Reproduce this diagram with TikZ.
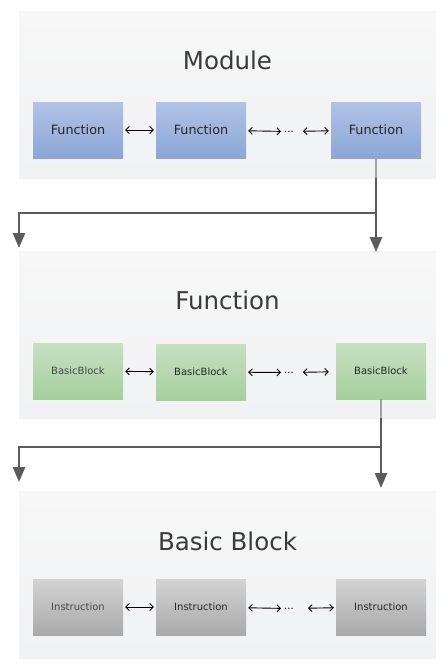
\documentclass[tikz,border=0pt]{standalone}
\usepackage{fontspec}
\setmainfont{DejaVu Sans}
\usetikzlibrary{arrows.meta}

\definecolor{paneltop}{HTML}{F7F7F7}
\definecolor{panelbot}{HTML}{F1F2F4}
\definecolor{bluetop}{HTML}{B1C3E6}
\definecolor{bluebot}{HTML}{8BA6D6}
\definecolor{greentop}{HTML}{C6E0C1}
\definecolor{greenbot}{HTML}{A6CF9D}
\definecolor{graytop}{HTML}{D3D3D3}
\definecolor{graybot}{HTML}{A9A9A9}
\definecolor{busgray}{HTML}{5B5B5B}
\definecolor{buslight}{HTML}{A3A3A3}
\definecolor{titlegray}{HTML}{3A3A3A}

\begin{document}
\begin{tikzpicture}[x=1pt, y=-1pt,
    panel/.style={top color=paneltop, bottom color=panelbot, minimum width=417pt, minimum height=167pt, inner sep=0pt},
    title/.style={text=titlegray, font=\fontsize{24.5}{29}\selectfont},
    box/.style={minimum width=90pt, minimum height=56pt, inner sep=0pt, text=black!85},
    bluebox/.style={box, top color=bluetop, bottom color=bluebot, font=\fontsize{12.8}{15}\selectfont},
    greenbox/.style={box, top color=greentop, bottom color=greenbot, font=\fontsize{10}{12}\selectfont},
    graybox/.style={box, top color=graytop, bottom color=graybot, font=\fontsize{10}{12}\selectfont},
    faded/.style={text=black!72},
    dots/.style={inner sep=1pt, font=\fontsize{10}{12}\selectfont},
    link/.style={line width=0.9pt, {Straight Barb[length=3.5pt,width=7pt]}-{Straight Barb[length=3.5pt,width=7pt]}, shorten <=2pt, shorten >=2pt},
    bus/.style={line width=2.6pt, draw=busgray, -{Triangle[length=15pt,width=12pt]}},
    stub/.style={line width=2.6pt, draw=buslight}]

    \useasboundingbox (0,0) rectangle (447,670);

    \node[panel] (p1) at (227.5, 94.5) {};
    \node[title] (t1) at (227.5, 60) {Module};
    \node[bluebox] (a) at (78, 130) {Function};
    \node[bluebox] (b) at (201, 130) {Function};
    \node[dots] (d) at (289, 131.5) {...};
    \node[bluebox] (c) at (376, 130) {Function};

    \draw [link] (a) -- (b);
    \draw [link] (b) -- (d);
    \draw [link, shorten <=8pt] (d) -- (c);

    \node[panel] (p2) at (227.5, 334.5) {};
    \node[title] (t2) at (227.5, 300) {Function};
    \node[greenbox, faded] (e) at (78, 371) {BasicBlock};
    \node[greenbox] (f) at (201, 372) {BasicBlock};
    \node[dots] (g) at (289, 372.5) {...};
    \node[greenbox] (h) at (381, 371) {BasicBlock};

    \draw [link] (e) -- (f);
    \draw [link] (f) -- (g);
    \draw [link, shorten <=8pt, shorten >=7pt] (g) -- (h);

    \node[panel] (p3) at (227.5, 574.5) {};
    \node[title] (t3) at (227.5, 541) {Basic Block};
    \node[graybox, faded] (i) at (78, 607) {Instruction};
    \node[graybox] (j) at (201, 607) {Instruction};
    \node[dots] (k) at (289, 608.5) {...};
    \node[graybox] (l) at (381, 607) {Instruction};

    \draw [link] (i) -- (j);
    \draw [link] (j) -- (k);
    \draw [link, shorten <=13pt] (k) -- (l);

    \coordinate (q1) at (c.south |- p1.south);
    \coordinate (m1) at (376, 213);
    \coordinate (l1) at (19, 248);
    \coordinate (r1) at (376, 252);
    \draw [stub] (c.south) -- (q1);
    \draw [bus] (q1) -- (r1);
    \draw [bus] (m1) -| (l1);

    \coordinate (q2) at (h.south |- p2.south);
    \coordinate (m2) at (381, 447);
    \coordinate (l2) at (19, 482);
    \coordinate (r2) at (381, 488);
    \draw [stub] (h.south) -- (q2);
    \draw [bus] (q2) -- (r2);
    \draw [bus] (m2) -| (l2);

\end{tikzpicture}
\end{document}
